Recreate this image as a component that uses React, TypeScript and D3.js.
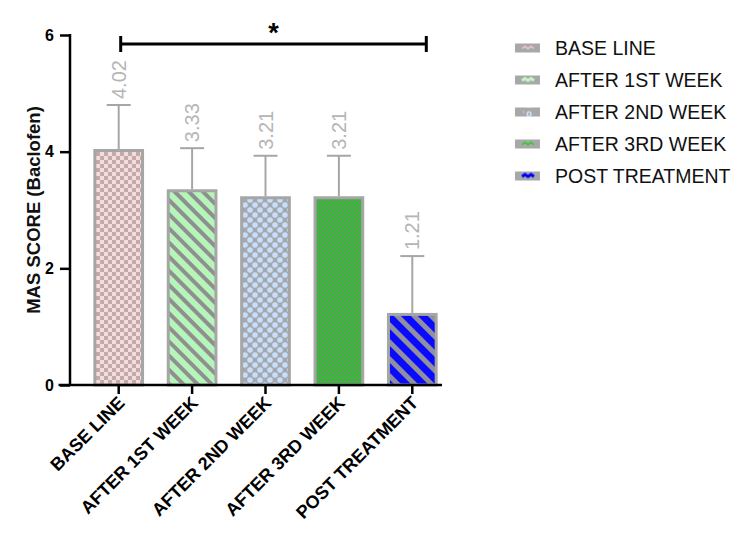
import React, { useEffect, useRef } from "react";
import * as d3 from "d3";

const categories = ["BASE LINE", "AFTER 1ST WEEK", "AFTER 2ND WEEK", "AFTER 3RD WEEK", "POST TREATMENT"];
const means = [4.02, 3.33, 3.21, 3.21, 1.21];
const sds = [0.78, 0.73, 0.72, 0.72, 1.0];
const yTicks = [0, 2, 4, 6];
const patternIds = ["pBase", "pW1", "pW2", "pW3", "pPost"];
const legendPatternIds = ["lBase", "lW1", "lW2", "lW3", "lPost"];

const GRAY = "#a6a6a6";
const FONT = "Arial, 'Liberation Sans', sans-serif";

function App() {
  const ref = useRef<SVGSVGElement>(null);

  useEffect(() => {
    const svg = d3.select(ref.current);
    svg.selectAll("*").remove();

    const defs = svg.append("defs");

    // base line: pink checkerboard
    const p0 = defs.append("pattern").attr("id", "pBase").attr("patternUnits", "userSpaceOnUse")
      .attr("width", 8).attr("height", 8);
    p0.append("rect").attr("width", 8).attr("height", 8).attr("fill", "#f9d9d9");
    p0.append("rect").attr("width", 4).attr("height", 4).attr("fill", "#bcacac");
    p0.append("rect").attr("x", 4).attr("y", 4).attr("width", 4).attr("height", 4).attr("fill", "#bcacac");

    // week 1: green diagonal stripes
    const p1 = defs.append("pattern").attr("id", "pW1").attr("patternUnits", "userSpaceOnUse")
      .attr("width", 10).attr("height", 10).attr("patternTransform", "rotate(45)");
    p1.append("rect").attr("width", 10).attr("height", 10).attr("fill", "#b6f5b9");
    p1.append("rect").attr("width", 10).attr("height", 4).attr("fill", "#8f8f8f");

    // week 2: blue dots on gray
    const p2 = defs.append("pattern").attr("id", "pW2").attr("patternUnits", "userSpaceOnUse")
      .attr("width", 10).attr("height", 10);
    p2.append("rect").attr("width", 10).attr("height", 10).attr("fill", "#a4a8ae");
    [[0, 0], [10, 0], [0, 10], [10, 10], [5, 5]].forEach(([px, py]) => {
      p2.append("circle").attr("cx", px).attr("cy", py).attr("r", 2.8).attr("fill", "#c6defa");
    });

    // week 3: fine green checker
    const p3 = defs.append("pattern").attr("id", "pW3").attr("patternUnits", "userSpaceOnUse")
      .attr("width", 4).attr("height", 4);
    p3.append("rect").attr("width", 4).attr("height", 4).attr("fill", "#2fbf2f");
    p3.append("rect").attr("width", 2).attr("height", 2).attr("fill", "#5f9a5f");
    p3.append("rect").attr("x", 2).attr("y", 2).attr("width", 2).attr("height", 2).attr("fill", "#5f9a5f");

    // post: blue diagonal stripes
    const p4 = defs.append("pattern").attr("id", "pPost").attr("patternUnits", "userSpaceOnUse")
      .attr("width", 12).attr("height", 12).attr("patternTransform", "rotate(45)");
    p4.append("rect").attr("width", 12).attr("height", 12).attr("fill", "#0a0aff");
    p4.append("rect").attr("width", 12).attr("height", 5).attr("fill", "#8f8f9f");

    // legend swatches: gray with small mark
    const legendColors = ["#f7c8d0", "#c4f5c4", "#cfe3fb", "#22cc22", "#0000ff"];
    legendPatternIds.forEach((id, i) => {
      const lp = defs.append("pattern").attr("id", id).attr("patternUnits", "objectBoundingBox")
        .attr("width", 1).attr("height", 1);
      lp.append("rect").attr("width", 25).attr("height", 9).attr("fill", "#a8a8a8");
      lp.append("path").attr("d", i === 2 ? "M8,4.5 L9,4.5 M14,4.5 a2,2 0 1,0 0.1,0" : "M7,5 L10,3 L13,5 L16,3 L19,5")
        .attr("stroke", legendColors[i]).attr("stroke-width", i === 4 || i === 1 ? 3 : 1.5).attr("fill", "none");
    });

    const x = d3.scaleBand<string>().domain(categories).range([82, 449]).paddingInner(0.35).paddingOuter(0.175);
    const y = d3.scaleLinear().domain([0, 6]).range([385, 35]);

    const g = svg.append("g");

    // bars
    g.selectAll(".bar").data(categories).join("rect").attr("class", "bar")
      .attr("x", d => x(d)!)
      .attr("y", (d, i) => y(means[i]))
      .attr("width", x.bandwidth())
      .attr("height", (d, i) => y(0) - y(means[i]))
      .attr("fill", (d, i) => `url(#${patternIds[i]})`)
      .attr("stroke", GRAY).attr("stroke-width", 3);

    // error bars
    const cx = (d: string) => x(d)! + x.bandwidth() / 2;
    g.selectAll(".err").data(categories).join("line").attr("class", "err")
      .attr("x1", cx).attr("x2", cx)
      .attr("y1", (d, i) => y(means[i]) - 1.5)
      .attr("y2", (d, i) => y(means[i] + sds[i]))
      .attr("stroke", GRAY).attr("stroke-width", 2);
    g.selectAll(".cap").data(categories).join("line").attr("class", "cap")
      .attr("x1", d => cx(d) - 12).attr("x2", d => cx(d) + 12)
      .attr("y1", (d, i) => y(means[i] + sds[i]))
      .attr("y2", (d, i) => y(means[i] + sds[i]))
      .attr("stroke", GRAY).attr("stroke-width", 2);

    // value labels
    g.selectAll(".val").data(categories).join("text").attr("class", "val")
      .attr("transform", (d, i) => `translate(${cx(d)},${y(means[i] + sds[i]) - 6}) rotate(-90)`)
      .attr("dy", "0.35em")
      .attr("font-family", FONT)
      .attr("font-size", 20)
      .attr("fill", "#b5b5b5")
      .text((d, i) => means[i].toFixed(2));

    // y axis
    const yAxis = g.append("g").attr("transform", "translate(70,0)")
      .call(d3.axisLeft(y).tickValues(yTicks).tickSize(10).tickPadding(6).tickFormat(d3.format("d")));
    yAxis.select(".domain").attr("stroke", "#000").attr("stroke-width", 2.5).attr("d", "M0,34V386");
    yAxis.selectAll(".tick line").attr("stroke", "#000").attr("stroke-width", 2.5);
    yAxis.selectAll(".tick text").attr("font-family", FONT)
      .attr("font-size", 16).attr("font-weight", "bold").attr("fill", "#000");

    // x axis
    const xAxis = g.append("g").attr("transform", "translate(0,385)")
      .call(d3.axisBottom(x).tickSize(9).tickFormat(() => ""));
    xAxis.select(".domain").attr("stroke", "#000").attr("stroke-width", 2.5).attr("d", "M58.5,0H442");
    xAxis.selectAll(".tick line").attr("stroke", "#000").attr("stroke-width", 2.5);

    g.selectAll(".xlab").data(categories).join("text").attr("class", "xlab")
      .attr("transform", d => `translate(${cx(d) + 7},${404}) rotate(-45)`)
      .attr("text-anchor", "end")
      .attr("font-family", FONT)
      .attr("font-size", 18).attr("font-weight", "bold").attr("fill", "#000")
      .text(d => d);

    // y label
    g.append("text")
      .attr("transform", `translate(40,${210}) rotate(-90)`)
      .attr("text-anchor", "middle")
      .attr("font-family", FONT)
      .attr("font-size", 18.5).attr("font-weight", "bold").attr("fill", "#111")
      .text("MAS SCORE (Baclofen)");

    // significance bar
    const sx1 = cx(categories[0]) + 2, sx2 = cx(categories[4]) + 14;
    const sy = 44;
    g.append("line").attr("x1", sx1).attr("x2", sx2).attr("y1", sy).attr("y2", sy).attr("stroke", "#000").attr("stroke-width", 3);
    g.append("line").attr("x1", sx1).attr("x2", sx1).attr("y1", sy - 8).attr("y2", sy + 8).attr("stroke", "#000").attr("stroke-width", 3);
    g.append("line").attr("x1", sx2).attr("x2", sx2).attr("y1", sy - 8).attr("y2", sy + 8).attr("stroke", "#000").attr("stroke-width", 3);
    g.append("text").attr("x", (sx1 + sx2) / 2).attr("y", 42)
      .attr("text-anchor", "middle")
      .attr("font-family", FONT)
      .attr("font-size", 27).attr("font-weight", "bold")
      .text("*");

    // legend
    const leg = g.selectAll(".leg").data(categories).join("g").attr("class", "leg")
      .attr("transform", (d, i) => `translate(515,${48 + i * 32})`);
    leg.append("rect").attr("x", 0).attr("y", -4.5).attr("width", 25).attr("height", 9)
      .attr("fill", (d, i) => `url(#${legendPatternIds[i]})`);
    leg.append("text").attr("x", 40).attr("y", 7)
      .attr("font-family", FONT)
      .attr("font-size", 19.5).attr("fill", "#111")
      .text(d => d);
  }, []);

  return (
    <svg ref={ref} width={750} height={550} style={{ position: "absolute", left: 0, top: 0, background: "#fff" }} />
  );
}

export default App;
